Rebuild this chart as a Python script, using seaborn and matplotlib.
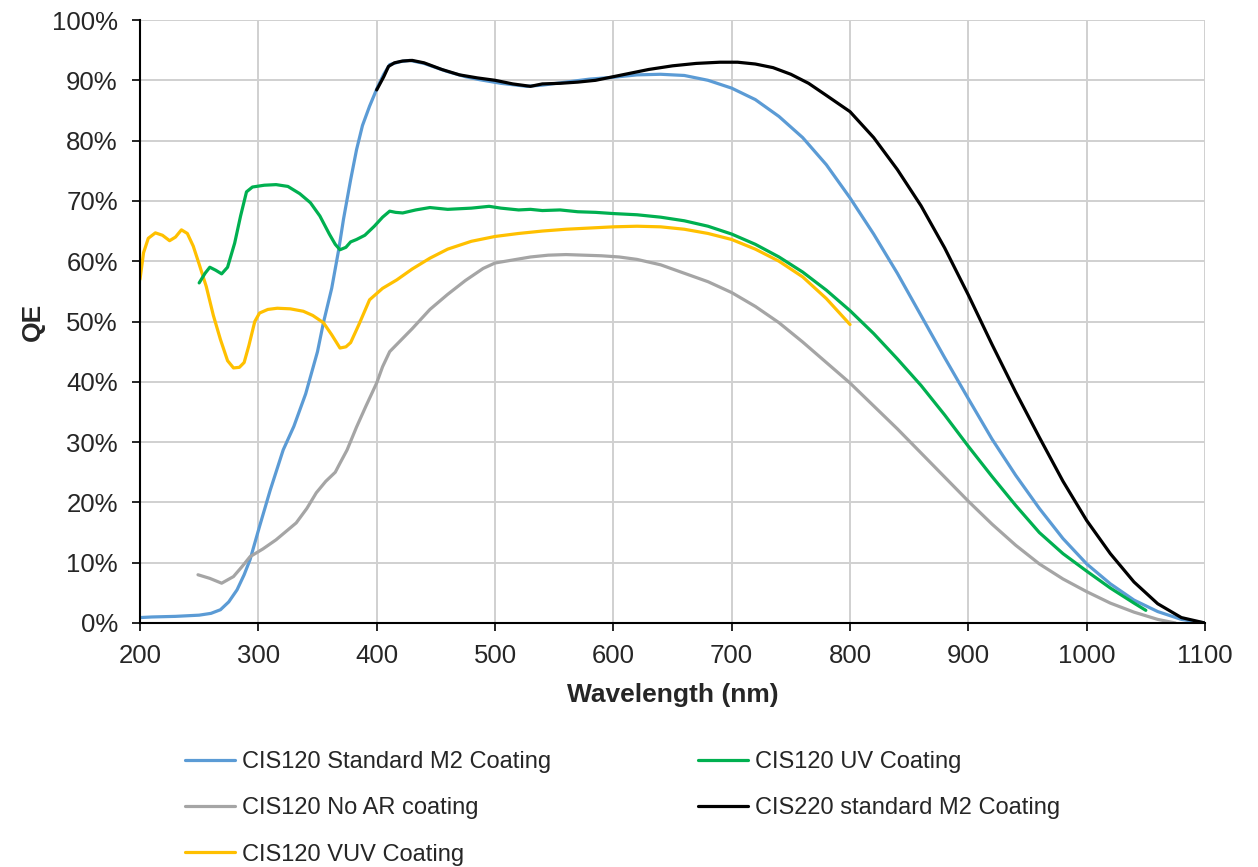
import seaborn as sns
import matplotlib.pyplot as plt
import numpy as np
import pandas as pd
from matplotlib.ticker import PercentFormatter

sns.set_style('white')
plt.rcParams['font.family'] = ['Liberation Sans', 'DejaVu Sans']

# wavelength (nm) / QE (%)
std_nm = [200, 210, 230, 250, 260, 268, 275, 282, 288, 293, 301, 310, 321, 330, 340, 350, 355, 362, 368,
          372, 378, 383, 388, 394, 401, 406, 411, 420, 428, 440, 459, 475, 487, 505, 527, 540, 560, 580,
          600, 620, 640, 660, 680, 700, 720, 740, 760, 780, 800, 820, 840, 860, 880, 900, 920, 940,
          960, 980, 1000, 1020, 1040, 1060, 1080, 1100]
std_qe = [0.9, 1.0, 1.1, 1.3, 1.6, 2.2, 3.5, 5.5, 8.0, 10.5, 16.0, 22.0, 28.7, 32.6, 38.0, 45.0, 49.8, 55.5, 62.0,
          67.0, 73.5, 78.5, 82.5, 85.7, 89.0, 91.0, 92.6, 93.1, 93.3, 92.8, 91.5, 90.6, 90.1, 89.5, 89.0, 89.2,
          89.7, 90.2, 90.5, 90.9, 91.0, 90.8, 90.0, 88.7, 86.8, 84.0, 80.5, 76.0, 70.5, 64.5, 58.0, 51.0,
          44.0, 37.2, 30.5, 24.5, 19.0, 14.0, 9.8, 6.5, 3.8, 1.9, 0.6, 0.0]

uv_nm = [250, 255, 259, 264, 269, 274, 280, 285, 290, 295, 305, 315, 325, 335, 344, 352, 360, 365, 369,
         374, 378, 383, 390, 398, 405, 411, 416, 422, 433, 445, 460, 480, 495, 505, 520, 530, 540, 555,
         570, 585, 600, 620, 640, 660, 680, 700, 720, 740, 760, 780, 800, 820, 840, 860, 880, 900,
         920, 940, 960, 980, 1000, 1020, 1040, 1050]
uv_qe = [56.4, 58.0, 59.0, 58.5, 57.9, 59.0, 63.0, 67.5, 71.5, 72.3, 72.6, 72.7, 72.4, 71.2, 69.7, 67.5, 64.5, 62.8, 61.9,
         62.3, 63.2, 63.6, 64.3, 65.8, 67.3, 68.3, 68.1, 68.0, 68.5, 68.9, 68.6, 68.8, 69.1, 68.8, 68.5, 68.6, 68.4, 68.5,
         68.2, 68.1, 67.9, 67.7, 67.3, 66.7, 65.8, 64.5, 62.8, 60.7, 58.2, 55.2, 51.8, 48.0, 43.8, 39.4, 34.5, 29.3,
         24.3, 19.5, 15.0, 11.5, 8.6, 5.8, 3.3, 2.1]

noar_nm = [249, 259, 269, 279, 286, 293, 304, 315, 332, 341, 349, 357, 365, 369, 375, 383, 391, 400, 405,
           411, 420, 430, 445, 460, 475, 490, 500, 515, 530, 545, 560, 575, 590, 605, 620, 640, 660,
           680, 700, 720, 740, 760, 780, 800, 820, 840, 860, 880, 900, 920, 940, 960, 980, 1000,
           1020, 1040, 1060, 1075]
noar_qe = [8.0, 7.4, 6.6, 7.7, 9.3, 11.0, 12.3, 13.8, 16.6, 19.0, 21.6, 23.5, 25.0, 26.5, 28.7, 32.5, 36.0, 39.8, 42.5,
           45.0, 46.8, 48.8, 52.0, 54.5, 56.8, 58.8, 59.7, 60.2, 60.7, 61.0, 61.1, 61.0, 60.9, 60.7, 60.3, 59.4, 58.0,
           56.6, 54.8, 52.5, 49.8, 46.6, 43.2, 39.8, 36.0, 32.2, 28.2, 24.2, 20.2, 16.4, 12.9, 9.8, 7.3, 5.2,
           3.3, 1.8, 0.6, 0.0]

cis220_nm = [400, 403, 406, 410, 415, 422, 430, 440, 455, 470, 485, 500, 515, 530, 540, 555, 570, 585,
             600, 615, 630, 650, 670, 690, 705, 720, 735, 750, 765, 780, 800, 820, 840, 860, 880,
             900, 920, 940, 960, 980, 1000, 1020, 1040, 1060, 1080, 1100]
cis220_qe = [88.4, 89.5, 90.6, 92.3, 92.9, 93.2, 93.3, 92.9, 91.8, 90.9, 90.4, 90.0, 89.4, 89.0, 89.4, 89.5, 89.7, 90.0,
             90.6, 91.2, 91.8, 92.4, 92.8, 93.0, 93.0, 92.7, 92.1, 91.0, 89.5, 87.5, 84.8, 80.5, 75.2, 69.2, 62.2,
             54.4, 46.2, 38.3, 30.8, 23.5, 17.0, 11.5, 6.8, 3.2, 0.9, 0.0]

vuv_nm = [200, 203, 207, 213, 219, 225, 230, 235, 240, 245, 250, 256, 262, 268, 274, 279, 284, 288, 292,
          297, 301, 308, 316, 327, 338, 346, 355, 362, 369, 374, 378, 385, 394, 405, 417, 430, 445,
          460, 480, 500, 520, 540, 560, 580, 600, 620, 640, 660, 680, 700, 720, 740, 760, 780, 800]
vuv_qe = [57.0, 61.4, 63.8, 64.7, 64.3, 63.4, 64.0, 65.2, 64.6, 62.5, 59.5, 55.8, 51.0, 47.0, 43.5, 42.3, 42.4, 43.2, 46.0,
          50.0, 51.4, 52.0, 52.2, 52.1, 51.7, 51.0, 49.8, 47.8, 45.6, 45.8, 46.5, 49.5, 53.6, 55.5, 56.9, 58.7, 60.5,
          62.0, 63.3, 64.1, 64.6, 65.0, 65.3, 65.5, 65.7, 65.8, 65.7, 65.3, 64.6, 63.6, 62.0, 60.0, 57.4, 53.8, 49.5]

series = [
    ('CIS120 Standard M2 Coating', std_nm, std_qe, '#5B9BD5'),
    ('CIS120 No AR coating', noar_nm, noar_qe, '#A5A5A5'),
    ('CIS120 VUV Coating', vuv_nm, vuv_qe, '#FFC000'),
    ('CIS120 UV Coating', uv_nm, uv_qe, '#00B050'),
    ('CIS220 standard M2 Coating', cis220_nm, cis220_qe, '#000000'),
]

fig = plt.figure(figsize=(12.58, 8.67), dpi=100)
ax = fig.add_axes([140 / 1258, 1 - 623 / 867, 1065 / 1258, 603 / 867])

# draw in the reference's stacking order (black on top)
draw_order = [0, 3, 1, 2, 4]
for i in draw_order:
    name, nm, qe, col = series[i]
    df = pd.DataFrame({'nm': nm, 'qe': qe})
    sns.lineplot(data=df, x='nm', y='qe', ax=ax, color=col, linewidth=2.3, label=name, zorder=3 + i)

ax.set_xlim(200, 1100)
ax.set_ylim(0, 100)
ax.set_xticks(np.arange(200, 1101, 100))
ax.set_yticks(np.arange(0, 101, 10))
ax.yaxis.set_major_formatter(PercentFormatter(decimals=0))
ax.grid(True, color='#d0d0d0', linewidth=1.4)
ax.set_axisbelow(True)
for s in ['top', 'right']:
    ax.spines[s].set_visible(False)
for s in ['left', 'bottom']:
    ax.spines[s].set_color('black')
    ax.spines[s].set_linewidth(1.5)
    ax.spines[s].set_zorder(10)
ax.tick_params(axis='both', which='major', labelsize=18.5, length=6, width=1.2,
               direction='out', color='black', left=True, bottom=True, labelcolor='#262626')
ax.tick_params(axis='x', pad=9)
ax.tick_params(axis='y', pad=10)
ax.set_xlabel('Wavelength (nm)', fontsize=19, fontweight='bold', labelpad=11)
ax.set_ylabel('QE', fontsize=19, fontweight='bold', labelpad=5)

ax.get_legend().remove()
handles = {h.get_label(): h for h in ax.get_lines()}
order = [s[0] for s in series]
fig.legend([handles[n] for n in order], order, loc='upper left',
           bbox_to_anchor=(185 / 1258, 1 - 751 / 867), ncol=2, frameon=False,
           fontsize=17, handlelength=2.1, handletextpad=0.3, labelspacing=1.03,
           columnspacing=6.25, borderpad=0, borderaxespad=0)

fig.savefig('out.png', dpi=100)
